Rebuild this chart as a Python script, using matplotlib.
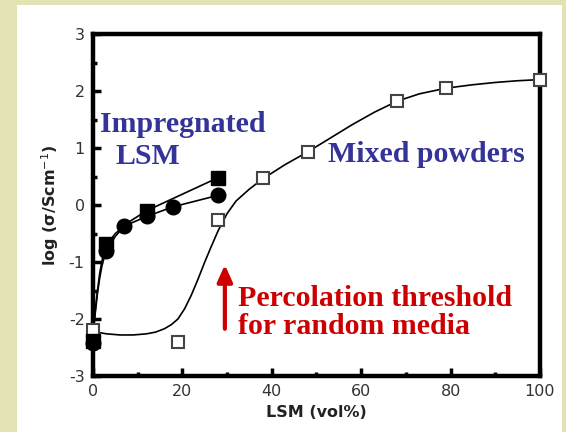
import numpy as np
import matplotlib.pyplot as plt
from matplotlib.patches import Rectangle
from matplotlib.ticker import MultipleLocator

plt.rcParams['axes.unicode_minus'] = False

# data
mixed_x = [0, 19, 28, 38, 48, 68, 79, 100]
mixed_y = [-2.2, -2.4, -0.27, 0.47, 0.93, 1.83, 2.05, 2.2]

# fitted curve for mixed powders
mixed_fit_x = [0, 3, 6, 9, 12, 14, 16, 17.5, 19, 20.5, 22, 23.5, 25, 26.5, 28, 30,
               32, 35, 38, 43, 48, 53, 58, 63, 68, 73, 79, 85, 90, 95, 100]
mixed_fit_y = [-2.22, -2.26, -2.28, -2.28, -2.26, -2.23, -2.17, -2.1, -2.0, -1.82,
               -1.58, -1.3, -1.0, -0.72, -0.45, -0.15, 0.07, 0.28, 0.46, 0.71, 0.93,
               1.17, 1.41, 1.63, 1.82, 1.95, 2.05, 2.11, 2.15, 2.18, 2.2]

imp_sq_x = [0, 3, 12, 28]
imp_sq_y = [-2.38, -0.68, -0.1, 0.48]
imp_ci_x = [0, 3, 7, 12, 18, 28]
imp_ci_y = [-2.42, -0.8, -0.37, -0.2, -0.03, 0.17]

imp_sq_line_x = [0, 0.5, 1, 1.5, 2, 2.5, 3, 5, 8, 12, 28]
imp_sq_line_y = [-2.25, -1.85, -1.5, -1.2, -0.98, -0.82, -0.7, -0.5, -0.3, -0.1, 0.48]
imp_ci_line_x = [0, 0.5, 1, 1.5, 2, 2.5, 3, 5, 7, 12, 18, 28]
imp_ci_line_y = [-2.25, -1.9, -1.55, -1.28, -1.07, -0.92, -0.8, -0.55, -0.37, -0.2, -0.03, 0.17]

fig = plt.figure(figsize=(5.66, 4.32), dpi=100)
fig.patch.set_facecolor('#e2e2b4')
fig.add_artist(Rectangle((17/566, 0), (562-17)/566, (432-5)/432,
                         transform=fig.transFigure, facecolor='white',
                         edgecolor='none', zorder=-5))

ax = fig.add_axes([93/566, 56/432, 447/566, 342/432])
ax.set_facecolor('white')

ax.plot(mixed_fit_x, mixed_fit_y, color='black', lw=1.2, zorder=2)
ax.plot(imp_sq_line_x, imp_sq_line_y, color='black', lw=1.2, zorder=2)
ax.plot(imp_ci_line_x, imp_ci_line_y, color='black', lw=1.2, zorder=2)

ax.plot(mixed_x, mixed_y, 's', ms=9, mfc='white', mec='#444444', mew=1.5, zorder=3, clip_on=False)
ax.plot(imp_sq_x, imp_sq_y, 's', ms=9.5, color='black', zorder=4, clip_on=False)
ax.plot(imp_ci_x, imp_ci_y, 'o', ms=10.5, color='black', zorder=4, clip_on=False)

ax.set_xlim(0, 100)
ax.set_ylim(-3, 3)
ax.xaxis.set_major_locator(MultipleLocator(20))
ax.xaxis.set_minor_locator(MultipleLocator(10))
ax.yaxis.set_major_locator(MultipleLocator(1))
ax.yaxis.set_minor_locator(MultipleLocator(0.5))
ax.tick_params(which='both', direction='in', top=False, right=False,
               labelsize=11.5, labelcolor='#333333', pad=6)
ax.tick_params(which='major', length=6, width=2.5)
ax.tick_params(which='minor', length=3, width=2.5)
for s in ax.spines.values():
    s.set_linewidth(3.2)

ax.set_xlabel('LSM (vol%)', fontsize=11.5, fontweight='bold', color='#222222', labelpad=4)
ax.set_ylabel('log (σ/Scm$^{-1}$)', fontsize=11.5, fontweight='bold', color='#222222')
ax.yaxis.set_label_coords(-0.072, 0.5)

serif = 'Liberation Serif'
ax.text(1.5, 1.28, 'Impregnated', fontsize=21.5, fontweight='bold', family=serif,
        color='#333399', ha='left', va='baseline')
ax.text(5, 0.72, 'LSM', fontsize=21.5, fontweight='bold', family=serif,
        color='#333399', ha='left', va='baseline')
ax.text(52.5, 0.75, 'Mixed powders', fontsize=21.5, fontweight='bold', family=serif,
        color='#333399', ha='left', va='baseline')
ax.text(32.5, -1.77, 'Percolation threshold', fontsize=21.5, fontweight='bold', family=serif,
        color='#cc0000', ha='left', va='baseline')
ax.text(32.5, -2.27, 'for random media', fontsize=21.5, fontweight='bold', family=serif,
        color='#cc0000', ha='left', va='baseline')
ax.annotate('', xy=(29.5, -1.0), xytext=(29.5, -2.22),
            arrowprops=dict(arrowstyle='-|>,head_length=1.0,head_width=0.45',
                            color='#cc0000', lw=3))

fig.savefig('out.png', dpi=100, facecolor=fig.get_facecolor())
